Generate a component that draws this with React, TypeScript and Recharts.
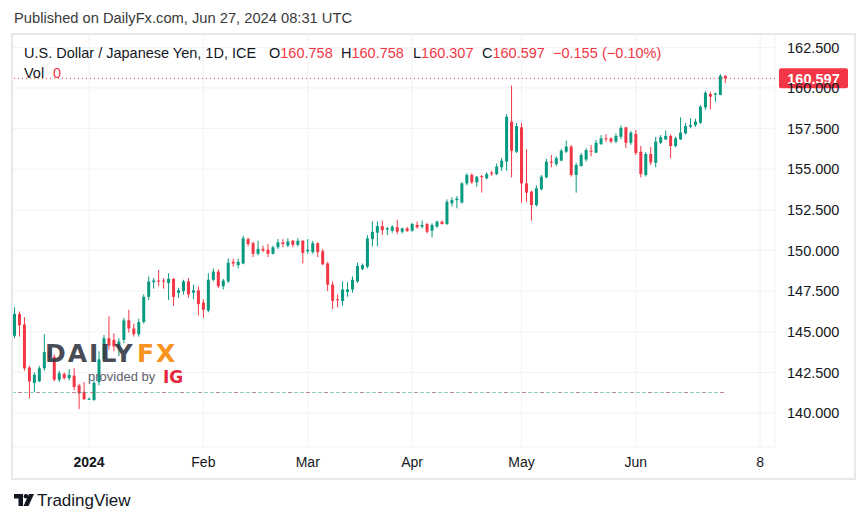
import React from 'react';
import { ComposedChart, Bar, XAxis, YAxis, CartesianGrid, ReferenceLine } from 'recharts';

// daily candles, USD/JPY (ICE)
const dates = [
  '2023-12-11', '2023-12-12', '2023-12-13', '2023-12-14', '2023-12-15',
  '2023-12-18', '2023-12-19', '2023-12-20', '2023-12-21', '2023-12-22',
  '2023-12-25', '2023-12-26', '2023-12-27', '2023-12-28', '2023-12-29',
  '2024-01-01', '2024-01-02', '2024-01-03', '2024-01-04', '2024-01-05',
  '2024-01-08', '2024-01-09', '2024-01-10', '2024-01-11', '2024-01-12',
  '2024-01-15', '2024-01-16', '2024-01-17', '2024-01-18', '2024-01-19',
  '2024-01-22', '2024-01-23', '2024-01-24', '2024-01-25', '2024-01-26',
  '2024-01-29', '2024-01-30', '2024-01-31', '2024-02-01', '2024-02-02',
  '2024-02-05', '2024-02-06', '2024-02-07', '2024-02-08', '2024-02-09',
  '2024-02-12', '2024-02-13', '2024-02-14', '2024-02-15', '2024-02-16',
  '2024-02-19', '2024-02-20', '2024-02-21', '2024-02-22', '2024-02-23',
  '2024-02-26', '2024-02-27', '2024-02-28', '2024-02-29', '2024-03-01',
  '2024-03-04', '2024-03-05', '2024-03-06', '2024-03-07', '2024-03-08',
  '2024-03-11', '2024-03-12', '2024-03-13', '2024-03-14', '2024-03-15',
  '2024-03-18', '2024-03-19', '2024-03-20', '2024-03-21', '2024-03-22',
  '2024-03-25', '2024-03-26', '2024-03-27', '2024-03-28', '2024-03-29',
  '2024-04-01', '2024-04-02', '2024-04-03', '2024-04-04', '2024-04-05',
  '2024-04-08', '2024-04-09', '2024-04-10', '2024-04-11', '2024-04-12',
  '2024-04-15', '2024-04-16', '2024-04-17', '2024-04-18', '2024-04-19',
  '2024-04-22', '2024-04-23', '2024-04-24', '2024-04-25', '2024-04-26',
  '2024-04-29', '2024-04-30', '2024-05-01', '2024-05-02', '2024-05-03',
  '2024-05-06', '2024-05-07', '2024-05-08', '2024-05-09', '2024-05-10',
  '2024-05-13', '2024-05-14', '2024-05-15', '2024-05-16', '2024-05-17',
  '2024-05-20', '2024-05-21', '2024-05-22', '2024-05-23', '2024-05-24',
  '2024-05-27', '2024-05-28', '2024-05-29', '2024-05-30', '2024-05-31',
  '2024-06-03', '2024-06-04', '2024-06-05', '2024-06-06', '2024-06-07',
  '2024-06-10', '2024-06-11', '2024-06-12', '2024-06-13', '2024-06-14',
  '2024-06-17', '2024-06-18', '2024-06-19', '2024-06-20', '2024-06-21',
  '2024-06-24', '2024-06-25', '2024-06-26', '2024-06-27',
];

const opens = [
  144.75, 146.1, 145.45, 142.8, 141.85,
  141.95, 142.75, 143.75, 143.45, 142.05,
  142.4, 142.15, 142.3, 141.7, 141.3,
  140.85, 140.8, 141.9, 143.3, 144.6,
  144.5, 144.1, 144.5, 145.7, 145.2,
  144.85, 145.6, 147.15, 148.05, 148.15,
  148.15, 148.0, 148.25, 147.4, 147.5,
  148.1, 147.4, 147.55, 146.8, 146.3,
  148.2, 148.7, 147.8, 148.1, 149.3,
  149.1, 149.2, 150.7, 150.45, 149.8,
  150.1, 150.05, 149.8, 150.2, 150.5,
  150.3, 150.6, 150.35, 150.6, 149.95,
  149.9, 150.45, 149.95, 149.2, 147.9,
  147.0, 146.9, 147.45, 147.6, 148.1,
  148.85, 149.0, 150.7, 151.1, 151.5,
  151.28, 151.22, 151.43, 151.16, 151.36,
  151.22, 151.57, 151.47, 151.63, 151.22,
  151.47, 151.77, 151.63, 152.9, 153.1,
  152.95, 154.13, 154.65, 154.2, 154.58,
  154.44, 154.79, 154.7, 155.12, 155.47,
  157.93, 156.08, 157.58, 154.13, 153.62,
  152.8, 153.77, 154.5, 155.47, 155.32,
  155.53, 156.08, 156.39, 154.65, 155.2,
  155.6, 156.14, 156.02, 156.55, 156.9,
  156.9, 156.7, 157.0, 157.58, 156.63,
  157.17, 156.08, 154.65, 155.94, 155.4,
  156.63, 156.84, 157.05, 156.43, 156.84,
  157.21, 157.62, 157.72, 157.86, 158.81,
  159.63, 159.59, 159.57, 160.758,
];

const highs = [
  146.5, 146.25, 145.9, 142.9, 142.5,
  142.9, 144.85, 144.0, 143.6, 142.6,
  142.5, 142.7, 142.75, 141.8, 141.9,
  140.95, 142.0, 143.8, 144.8, 145.95,
  144.9, 144.6, 145.85, 146.35, 145.5,
  145.8, 147.3, 148.4, 148.3, 148.8,
  148.3, 148.6, 148.3, 147.7, 148.2,
  148.3, 147.9, 147.8, 147.0, 148.6,
  148.9, 148.85, 148.25, 149.5, 149.5,
  149.5, 150.9, 150.8, 150.55, 150.6,
  150.3, 150.4, 150.3, 150.7, 150.7,
  150.75, 150.65, 150.75, 150.65, 150.7,
  150.6, 150.5, 150.1, 149.3, 148.1,
  147.3, 148.1, 148.05, 148.4, 149.25,
  149.2, 150.95, 151.8, 151.8, 151.85,
  151.45, 151.55, 151.9, 151.4, 151.45,
  151.7, 151.78, 151.85, 151.71, 151.67,
  151.85, 151.85, 153.15, 153.27, 153.35,
  154.2, 154.75, 154.75, 154.58, 154.65,
  154.8, 154.9, 155.35, 155.7, 158.4,
  160.15, 157.85, 157.83, 156.23, 153.68,
  154.0, 154.65, 155.65, 155.88, 155.8,
  156.25, 156.76, 156.5, 155.4, 156.0,
  156.3, 156.49, 156.8, 157.1, 157.15,
  156.95, 157.2, 157.7, 157.62, 157.35,
  157.42, 156.43, 156.05, 156.37, 157.0,
  157.1, 157.37, 157.15, 157.0, 158.2,
  157.85, 158.13, 158.1, 158.95, 159.8,
  159.77, 159.71, 160.87, 160.758,
];

const lows = [
  144.6, 144.7, 142.6, 140.9, 141.3,
  141.9, 142.6, 143.2, 141.95, 141.9,
  142.05, 142.0, 141.4, 140.25, 140.8,
  140.8, 140.75, 141.7, 143.2, 143.9,
  143.8, 143.5, 144.3, 144.95, 144.7,
  144.7, 145.5, 146.95, 147.65, 147.8,
  147.65, 146.95, 146.6, 147.1, 147.3,
  147.1, 147.0, 146.0, 145.85, 146.2,
  148.1, 147.7, 147.6, 148.0, 149.0,
  148.9, 149.15, 150.25, 149.6, 149.7,
  149.9, 149.6, 149.75, 150.1, 150.2,
  150.2, 150.2, 150.25, 149.2, 149.8,
  149.8, 149.6, 149.1, 147.5, 146.4,
  146.5, 146.6, 147.15, 147.4, 148.0,
  148.8, 148.9, 150.25, 150.25, 150.95,
  150.95, 151.1, 151.0, 151.05, 151.15,
  151.15, 151.35, 151.35, 151.06, 150.81,
  151.4, 151.6, 151.57, 152.7, 152.6,
  152.9, 154.0, 154.1, 153.93, 153.56,
  154.4, 154.6, 154.65, 154.9, 154.91,
  154.5, 156.0, 152.94, 153.0, 151.83,
  152.7, 153.7, 154.45, 155.12, 155.2,
  155.5, 156.0, 154.55, 153.56, 155.15,
  155.47, 155.8, 156.0, 156.5, 156.7,
  156.6, 156.6, 156.85, 156.3, 156.5,
  155.88, 154.5, 154.55, 155.26, 155.12,
  156.55, 156.8, 155.67, 156.35, 156.8,
  157.15, 157.52, 157.6, 157.8, 158.65,
  158.69, 159.16, 159.55, 160.307,
];

const closes = [
  146.1, 145.4, 142.75, 141.95, 142.35,
  142.75, 143.75, 143.45, 142.05, 142.45,
  142.15, 142.35, 141.6, 141.2, 140.85,
  140.88, 141.85, 143.3, 144.6, 144.15,
  144.1, 144.4, 145.7, 145.2, 144.85,
  145.6, 147.15, 148.1, 148.15, 148.1,
  148.1, 148.25, 147.15, 147.55, 148.1,
  147.3, 147.55, 146.7, 146.35, 148.2,
  148.7, 147.8, 148.15, 149.25, 149.2,
  149.3, 150.75, 150.4, 149.8, 150.1,
  150.0, 149.8, 150.2, 150.5, 150.4,
  150.55, 150.35, 150.6, 149.85, 150.05,
  150.45, 149.9, 149.15, 147.9, 146.9,
  146.95, 147.6, 147.6, 148.2, 149.05,
  149.1, 150.75, 151.15, 151.5, 151.25,
  151.36, 151.47, 151.16, 151.36, 151.2,
  151.63, 151.43, 151.57, 151.16, 151.57,
  151.77, 151.63, 153.0, 153.1, 153.2,
  154.13, 154.65, 154.2, 154.54, 154.54,
  154.7, 154.72, 155.16, 155.53, 158.23,
  156.14, 157.66, 154.13, 153.56, 152.8,
  153.83, 154.54, 155.47, 155.4, 155.68,
  156.14, 156.39, 154.65, 155.26, 155.88,
  156.18, 156.08, 156.63, 156.9, 156.84,
  156.7, 157.05, 157.55, 156.63, 157.25,
  156.0, 154.7, 155.94, 155.42, 156.7,
  156.97, 157.05, 156.43, 156.9, 157.25,
  157.66, 157.72, 157.93, 158.85, 159.71,
  159.47, 159.67, 160.752, 160.597,
];

const priceTicks = [140, 142.5, 145, 147.5, 150, 152.5, 155, 157.5, 160, 162.5];
const timeTickDates = ['2024-01-01', '2024-02-01', '2024-03-01', '2024-04-01', '2024-05-01', '2024-06-03', '2024-07-08'];
const timeTickLabels = ['2024', 'Feb', 'Mar', 'Apr', 'May', 'Jun', '8'];
const baseLevel = 141.26;

const UP = '#089981';
const DOWN = '#f23645';
const FONT = '"Liberation Sans", Arial, sans-serif';

const DAY = 86400000;
const t0 = Date.UTC(2023, 11, 11);
// weekdays since the first bar, so weekends leave no gap
function barIndex(s: string) {
  const [y, m, d] = s.split('-').map(Number);
  const t = Date.UTC(y, m - 1, d);
  let n = 0;
  for (let c = t0; c < t; c += DAY) {
    const wd = new Date(c).getUTCDay();
    if (wd !== 0 && wd !== 6) n++;
  }
  return n;
}

const rows = dates.map((d, k) => ({
  idx: barIndex(d),
  date: d,
  open: opens[k],
  high: highs[k],
  low: lows[k],
  close: closes[k],
}));

const timeTicks = timeTickDates.map(barIndex);
const last = rows.length - 1;
const lastClose = closes[last];
const change = lastClose - closes[last - 1];
const changePct = (change / closes[last - 1]) * 100;
const fmt = (v: number) => v.toFixed(3);
const minus = (s: string) => s.replace('-', '\u2212');

const Candle = (props: any) => {
  const { x, y, width, height, payload } = props;
  if (x == null || !payload) return null;
  const { open, close, high, low } = payload;
  const yTop = Math.min(y, y + height);
  const span = Math.abs(height);
  const k = high - low > 0 ? span / (high - low) : 0;
  const yO = yTop + (high - open) * k;
  const yC = yTop + (high - close) * k;
  const cx = x + width / 2;
  const color = close >= open ? UP : DOWN;
  const bodyTop = Math.min(yO, yC);
  const bodyH = Math.max(1, Math.abs(yO - yC));
  return (
    <g>
      <line x1={cx} x2={cx} y1={yTop} y2={yTop + span} stroke={color} strokeWidth={1} />
      <rect x={cx - 1.5} y={bodyTop} width={3} height={bodyH} fill={color} />
    </g>
  );
};

const TimeTick = (props: any) => {
  const { x, y, payload } = props;
  const label = timeTickLabels[timeTicks.indexOf(payload.value)];
  return (
    <text x={x} y={y} dy="0.71em" textAnchor="middle" fill="#131722" fontSize={14}
      fontFamily={FONT} fontWeight={label === '2024' ? 'bold' : 'normal'}>
      {label}
    </text>
  );
};

const PriceTag = (props: any) => {
  const vb = props.viewBox;
  if (!vb) return null;
  const x0 = vb.x + vb.width + 4;
  return (
    <g>
      <rect x={x0} y={vb.y - 10} width={69} height={20} rx={2} fill={DOWN} />
      <text x={x0 + 34.5} y={vb.y} dy="0.36em" textAnchor="middle" fill="#fff" fontSize={14.5}
        fontWeight="bold" fontFamily={FONT}>
        {fmt(lastClose)}
      </text>
    </g>
  );
};

export default function App() {
  return (
    <div style={{ position: 'absolute', left: 0, top: 0, width: 867, height: 523, background: '#fff', fontFamily: FONT }}>
      <div style={{ position: 'absolute', left: 12, top: 34 }}>
        <ComposedChart width={843} height={445} data={rows} margin={{ top: 0, right: 0, bottom: 0, left: 0 }}>
          <CartesianGrid stroke="#f0f2f6" ticks={priceTicks} />
          <XAxis dataKey="idx" type="number" domain={[-0.5, 153]} allowDataOverflow ticks={timeTicks}
            height={32} tickSize={0} tickMargin={10} axisLine={false} tick={<TimeTick />} interval={0} />
          <YAxis orientation="right" type="number" domain={[137.908, 163.323]} allowDataOverflow ticks={priceTicks}
            width={80} tickSize={0} tickMargin={12} axisLine={false} interval={0}
            tick={{ fill: '#131722', fontSize: 14.5, fontFamily: FONT }} tickFormatter={fmt} />
          <ReferenceLine segment={[{ x: -0.5, y: baseLevel }, { x: last, y: baseLevel }]}
            stroke={UP} strokeOpacity={0.45} strokeDasharray="4 2" ifOverflow="visible" />
          <ReferenceLine segment={[{ x: -0.5, y: baseLevel }, { x: last, y: baseLevel }]}
            stroke={DOWN} strokeOpacity={0.45} strokeDasharray="4 14" strokeDashoffset={-6} ifOverflow="visible" />
          <Bar dataKey={(d: any) => [d.low, d.high]} barSize={3} shape={<Candle />} isAnimationActive={false} />
          <ReferenceLine y={lastClose} stroke={DOWN} strokeDasharray="1 3" label={<PriceTag />} ifOverflow="visible" />
        </ComposedChart>
      </div>
      <svg width={867} height={523} style={{ position: 'absolute', left: 0, top: 0, pointerEvents: 'none' }}
        fontFamily={FONT}>
        <rect x={12} y={34} width={843} height={445} fill="none" stroke="#e6e8ec" strokeWidth={2} />
        <text x={14} y={23} fontSize={14.7} fill="#3a3a3a">Published on DailyFx.com, Jun 27, 2024 08:31 UTC</text>
        <g fontSize={14.5}>
          <text x={24} y={58} fill="#131722">U.S. Dollar / Japanese Yen, 1D, ICE</text>
          <text x={269} y={58} fill="#131722">O<tspan fill={DOWN}>{fmt(opens[last])}</tspan></text>
          <text x={341} y={58} fill="#131722">H<tspan fill={DOWN}>{fmt(highs[last])}</tspan></text>
          <text x={413} y={58} fill="#131722">L<tspan fill={DOWN}>{fmt(lows[last])}</tspan></text>
          <text x={482} y={58} fill="#131722">C<tspan fill={DOWN}>{fmt(lastClose)}</tspan></text>
          <text x={553} y={58} fill={DOWN}>{minus(change.toFixed(3))}</text>
          <text x={602} y={58} fill={DOWN}>({minus(changePct.toFixed(2))}%)</text>
          <text x={24} y={78} fill="#131722">Vol</text>
          <text x={53} y={78} fill={DOWN}>0</text>
        </g>
        <g fontFamily='"DejaVu Sans", sans-serif' fontWeight="bold">
          <text x={45} y={362} fontSize={25} letterSpacing={2} fill="#363a45" fillOpacity={0.92}>DAILY</text>
          <text x={137} y={362} fontSize={25} letterSpacing={2} fill="#f7931e">FX</text>
          <text x={88} y={381} fontSize={13} fontWeight="normal" fill="#5d606b" fontFamily={FONT}>provided by</text>
          <text x={163} y={383} fontSize={17} fill="#e5253a">IG</text>
        </g>
        <g fill="#131722">
          <path d="M14 494 H23 V506 H18.5 V498.5 H14 Z" />
          <circle cx={26} cy={496.3} r={2.3} />
          <path d="M29 494 H34 L28.5 506 H23.5 Z" />
          <text x={37} y={506} fontSize={17} fill="#131722">TradingView</text>
        </g>
      </svg>
    </div>
  );
}
